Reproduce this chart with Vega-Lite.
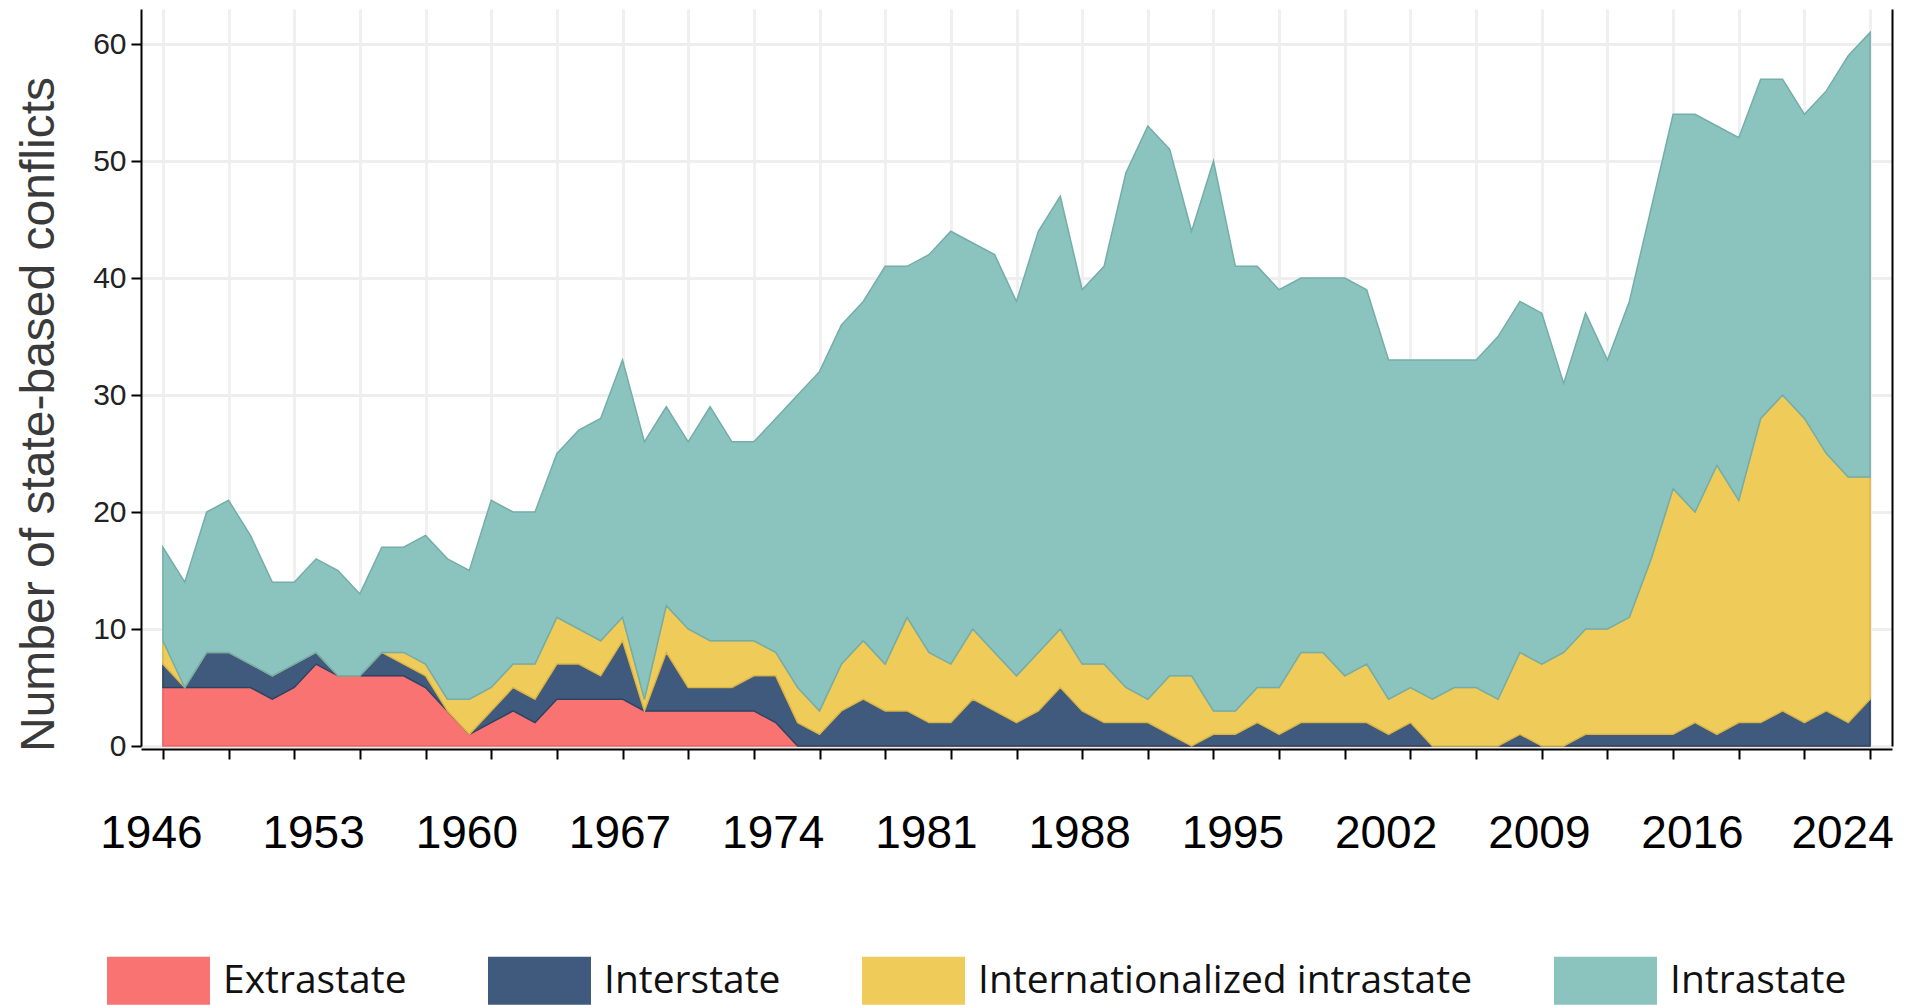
{
"$schema": "https://vega.github.io/schema/vega-lite/v6.json",
"width": 1751, "height": 737,
"autosize": {"type": "none"},
"padding": {"left": 141, "top": 9, "right": 19, "bottom": 259},
"background": "white",
"config": {"view": {"stroke": null}},
"datasets": {
"typeRank": [
{"type":"Extrastate","rank":1},{"type":"Interstate","rank":2},{"type":"Internationalized intrastate","rank":3},{"type":"Intrastate","rank":4}
]},
"data": {"values": [
{"year":1946,"type":"Extrastate","count":5},{"year":1946,"type":"Interstate","count":2},{"year":1946,"type":"Internationalized intrastate","count":2},{"year":1946,"type":"Intrastate","count":8},
{"year":1947,"type":"Extrastate","count":5},{"year":1947,"type":"Interstate","count":0},{"year":1947,"type":"Internationalized intrastate","count":0},{"year":1947,"type":"Intrastate","count":9},
{"year":1948,"type":"Extrastate","count":5},{"year":1948,"type":"Interstate","count":3},{"year":1948,"type":"Internationalized intrastate","count":0},{"year":1948,"type":"Intrastate","count":12},
{"year":1949,"type":"Extrastate","count":5},{"year":1949,"type":"Interstate","count":3},{"year":1949,"type":"Internationalized intrastate","count":0},{"year":1949,"type":"Intrastate","count":13},
{"year":1950,"type":"Extrastate","count":5},{"year":1950,"type":"Interstate","count":2},{"year":1950,"type":"Internationalized intrastate","count":0},{"year":1950,"type":"Intrastate","count":11},
{"year":1951,"type":"Extrastate","count":4},{"year":1951,"type":"Interstate","count":2},{"year":1951,"type":"Internationalized intrastate","count":0},{"year":1951,"type":"Intrastate","count":8},
{"year":1952,"type":"Extrastate","count":5},{"year":1952,"type":"Interstate","count":2},{"year":1952,"type":"Internationalized intrastate","count":0},{"year":1952,"type":"Intrastate","count":7},
{"year":1953,"type":"Extrastate","count":7},{"year":1953,"type":"Interstate","count":1},{"year":1953,"type":"Internationalized intrastate","count":0},{"year":1953,"type":"Intrastate","count":8},
{"year":1954,"type":"Extrastate","count":6},{"year":1954,"type":"Interstate","count":0},{"year":1954,"type":"Internationalized intrastate","count":0},{"year":1954,"type":"Intrastate","count":9},
{"year":1955,"type":"Extrastate","count":6},{"year":1955,"type":"Interstate","count":0},{"year":1955,"type":"Internationalized intrastate","count":0},{"year":1955,"type":"Intrastate","count":7},
{"year":1956,"type":"Extrastate","count":6},{"year":1956,"type":"Interstate","count":2},{"year":1956,"type":"Internationalized intrastate","count":0},{"year":1956,"type":"Intrastate","count":9},
{"year":1957,"type":"Extrastate","count":6},{"year":1957,"type":"Interstate","count":1},{"year":1957,"type":"Internationalized intrastate","count":1},{"year":1957,"type":"Intrastate","count":9},
{"year":1958,"type":"Extrastate","count":5},{"year":1958,"type":"Interstate","count":1},{"year":1958,"type":"Internationalized intrastate","count":1},{"year":1958,"type":"Intrastate","count":11},
{"year":1959,"type":"Extrastate","count":3},{"year":1959,"type":"Interstate","count":0},{"year":1959,"type":"Internationalized intrastate","count":1},{"year":1959,"type":"Intrastate","count":12},
{"year":1960,"type":"Extrastate","count":1},{"year":1960,"type":"Interstate","count":0},{"year":1960,"type":"Internationalized intrastate","count":3},{"year":1960,"type":"Intrastate","count":11},
{"year":1961,"type":"Extrastate","count":2},{"year":1961,"type":"Interstate","count":1},{"year":1961,"type":"Internationalized intrastate","count":2},{"year":1961,"type":"Intrastate","count":16},
{"year":1962,"type":"Extrastate","count":3},{"year":1962,"type":"Interstate","count":2},{"year":1962,"type":"Internationalized intrastate","count":2},{"year":1962,"type":"Intrastate","count":13},
{"year":1963,"type":"Extrastate","count":2},{"year":1963,"type":"Interstate","count":2},{"year":1963,"type":"Internationalized intrastate","count":3},{"year":1963,"type":"Intrastate","count":13},
{"year":1964,"type":"Extrastate","count":4},{"year":1964,"type":"Interstate","count":3},{"year":1964,"type":"Internationalized intrastate","count":4},{"year":1964,"type":"Intrastate","count":14},
{"year":1965,"type":"Extrastate","count":4},{"year":1965,"type":"Interstate","count":3},{"year":1965,"type":"Internationalized intrastate","count":3},{"year":1965,"type":"Intrastate","count":17},
{"year":1966,"type":"Extrastate","count":4},{"year":1966,"type":"Interstate","count":2},{"year":1966,"type":"Internationalized intrastate","count":3},{"year":1966,"type":"Intrastate","count":19},
{"year":1967,"type":"Extrastate","count":4},{"year":1967,"type":"Interstate","count":5},{"year":1967,"type":"Internationalized intrastate","count":2},{"year":1967,"type":"Intrastate","count":22},
{"year":1968,"type":"Extrastate","count":3},{"year":1968,"type":"Interstate","count":0},{"year":1968,"type":"Internationalized intrastate","count":1},{"year":1968,"type":"Intrastate","count":22},
{"year":1969,"type":"Extrastate","count":3},{"year":1969,"type":"Interstate","count":5},{"year":1969,"type":"Internationalized intrastate","count":4},{"year":1969,"type":"Intrastate","count":17},
{"year":1970,"type":"Extrastate","count":3},{"year":1970,"type":"Interstate","count":2},{"year":1970,"type":"Internationalized intrastate","count":5},{"year":1970,"type":"Intrastate","count":16},
{"year":1971,"type":"Extrastate","count":3},{"year":1971,"type":"Interstate","count":2},{"year":1971,"type":"Internationalized intrastate","count":4},{"year":1971,"type":"Intrastate","count":20},
{"year":1972,"type":"Extrastate","count":3},{"year":1972,"type":"Interstate","count":2},{"year":1972,"type":"Internationalized intrastate","count":4},{"year":1972,"type":"Intrastate","count":17},
{"year":1973,"type":"Extrastate","count":3},{"year":1973,"type":"Interstate","count":3},{"year":1973,"type":"Internationalized intrastate","count":3},{"year":1973,"type":"Intrastate","count":17},
{"year":1974,"type":"Extrastate","count":2},{"year":1974,"type":"Interstate","count":4},{"year":1974,"type":"Internationalized intrastate","count":2},{"year":1974,"type":"Intrastate","count":20},
{"year":1975,"type":"Extrastate","count":0},{"year":1975,"type":"Interstate","count":2},{"year":1975,"type":"Internationalized intrastate","count":3},{"year":1975,"type":"Intrastate","count":25},
{"year":1976,"type":"Extrastate","count":0},{"year":1976,"type":"Interstate","count":1},{"year":1976,"type":"Internationalized intrastate","count":2},{"year":1976,"type":"Intrastate","count":29},
{"year":1977,"type":"Extrastate","count":0},{"year":1977,"type":"Interstate","count":3},{"year":1977,"type":"Internationalized intrastate","count":4},{"year":1977,"type":"Intrastate","count":29},
{"year":1978,"type":"Extrastate","count":0},{"year":1978,"type":"Interstate","count":4},{"year":1978,"type":"Internationalized intrastate","count":5},{"year":1978,"type":"Intrastate","count":29},
{"year":1979,"type":"Extrastate","count":0},{"year":1979,"type":"Interstate","count":3},{"year":1979,"type":"Internationalized intrastate","count":4},{"year":1979,"type":"Intrastate","count":34},
{"year":1980,"type":"Extrastate","count":0},{"year":1980,"type":"Interstate","count":3},{"year":1980,"type":"Internationalized intrastate","count":8},{"year":1980,"type":"Intrastate","count":30},
{"year":1981,"type":"Extrastate","count":0},{"year":1981,"type":"Interstate","count":2},{"year":1981,"type":"Internationalized intrastate","count":6},{"year":1981,"type":"Intrastate","count":34},
{"year":1982,"type":"Extrastate","count":0},{"year":1982,"type":"Interstate","count":2},{"year":1982,"type":"Internationalized intrastate","count":5},{"year":1982,"type":"Intrastate","count":37},
{"year":1983,"type":"Extrastate","count":0},{"year":1983,"type":"Interstate","count":4},{"year":1983,"type":"Internationalized intrastate","count":6},{"year":1983,"type":"Intrastate","count":33},
{"year":1984,"type":"Extrastate","count":0},{"year":1984,"type":"Interstate","count":3},{"year":1984,"type":"Internationalized intrastate","count":5},{"year":1984,"type":"Intrastate","count":34},
{"year":1985,"type":"Extrastate","count":0},{"year":1985,"type":"Interstate","count":2},{"year":1985,"type":"Internationalized intrastate","count":4},{"year":1985,"type":"Intrastate","count":32},
{"year":1986,"type":"Extrastate","count":0},{"year":1986,"type":"Interstate","count":3},{"year":1986,"type":"Internationalized intrastate","count":5},{"year":1986,"type":"Intrastate","count":36},
{"year":1987,"type":"Extrastate","count":0},{"year":1987,"type":"Interstate","count":5},{"year":1987,"type":"Internationalized intrastate","count":5},{"year":1987,"type":"Intrastate","count":37},
{"year":1988,"type":"Extrastate","count":0},{"year":1988,"type":"Interstate","count":3},{"year":1988,"type":"Internationalized intrastate","count":4},{"year":1988,"type":"Intrastate","count":32},
{"year":1989,"type":"Extrastate","count":0},{"year":1989,"type":"Interstate","count":2},{"year":1989,"type":"Internationalized intrastate","count":5},{"year":1989,"type":"Intrastate","count":34},
{"year":1990,"type":"Extrastate","count":0},{"year":1990,"type":"Interstate","count":2},{"year":1990,"type":"Internationalized intrastate","count":3},{"year":1990,"type":"Intrastate","count":44},
{"year":1991,"type":"Extrastate","count":0},{"year":1991,"type":"Interstate","count":2},{"year":1991,"type":"Internationalized intrastate","count":2},{"year":1991,"type":"Intrastate","count":49},
{"year":1992,"type":"Extrastate","count":0},{"year":1992,"type":"Interstate","count":1},{"year":1992,"type":"Internationalized intrastate","count":5},{"year":1992,"type":"Intrastate","count":45},
{"year":1993,"type":"Extrastate","count":0},{"year":1993,"type":"Interstate","count":0},{"year":1993,"type":"Internationalized intrastate","count":6},{"year":1993,"type":"Intrastate","count":38},
{"year":1994,"type":"Extrastate","count":0},{"year":1994,"type":"Interstate","count":1},{"year":1994,"type":"Internationalized intrastate","count":2},{"year":1994,"type":"Intrastate","count":47},
{"year":1995,"type":"Extrastate","count":0},{"year":1995,"type":"Interstate","count":1},{"year":1995,"type":"Internationalized intrastate","count":2},{"year":1995,"type":"Intrastate","count":38},
{"year":1996,"type":"Extrastate","count":0},{"year":1996,"type":"Interstate","count":2},{"year":1996,"type":"Internationalized intrastate","count":3},{"year":1996,"type":"Intrastate","count":36},
{"year":1997,"type":"Extrastate","count":0},{"year":1997,"type":"Interstate","count":1},{"year":1997,"type":"Internationalized intrastate","count":4},{"year":1997,"type":"Intrastate","count":34},
{"year":1998,"type":"Extrastate","count":0},{"year":1998,"type":"Interstate","count":2},{"year":1998,"type":"Internationalized intrastate","count":6},{"year":1998,"type":"Intrastate","count":32},
{"year":1999,"type":"Extrastate","count":0},{"year":1999,"type":"Interstate","count":2},{"year":1999,"type":"Internationalized intrastate","count":6},{"year":1999,"type":"Intrastate","count":32},
{"year":2000,"type":"Extrastate","count":0},{"year":2000,"type":"Interstate","count":2},{"year":2000,"type":"Internationalized intrastate","count":4},{"year":2000,"type":"Intrastate","count":34},
{"year":2001,"type":"Extrastate","count":0},{"year":2001,"type":"Interstate","count":2},{"year":2001,"type":"Internationalized intrastate","count":5},{"year":2001,"type":"Intrastate","count":32},
{"year":2002,"type":"Extrastate","count":0},{"year":2002,"type":"Interstate","count":1},{"year":2002,"type":"Internationalized intrastate","count":3},{"year":2002,"type":"Intrastate","count":29},
{"year":2003,"type":"Extrastate","count":0},{"year":2003,"type":"Interstate","count":2},{"year":2003,"type":"Internationalized intrastate","count":3},{"year":2003,"type":"Intrastate","count":28},
{"year":2004,"type":"Extrastate","count":0},{"year":2004,"type":"Interstate","count":0},{"year":2004,"type":"Internationalized intrastate","count":4},{"year":2004,"type":"Intrastate","count":29},
{"year":2005,"type":"Extrastate","count":0},{"year":2005,"type":"Interstate","count":0},{"year":2005,"type":"Internationalized intrastate","count":5},{"year":2005,"type":"Intrastate","count":28},
{"year":2006,"type":"Extrastate","count":0},{"year":2006,"type":"Interstate","count":0},{"year":2006,"type":"Internationalized intrastate","count":5},{"year":2006,"type":"Intrastate","count":28},
{"year":2007,"type":"Extrastate","count":0},{"year":2007,"type":"Interstate","count":0},{"year":2007,"type":"Internationalized intrastate","count":4},{"year":2007,"type":"Intrastate","count":31},
{"year":2008,"type":"Extrastate","count":0},{"year":2008,"type":"Interstate","count":1},{"year":2008,"type":"Internationalized intrastate","count":7},{"year":2008,"type":"Intrastate","count":30},
{"year":2009,"type":"Extrastate","count":0},{"year":2009,"type":"Interstate","count":0},{"year":2009,"type":"Internationalized intrastate","count":7},{"year":2009,"type":"Intrastate","count":30},
{"year":2010,"type":"Extrastate","count":0},{"year":2010,"type":"Interstate","count":0},{"year":2010,"type":"Internationalized intrastate","count":8},{"year":2010,"type":"Intrastate","count":23},
{"year":2011,"type":"Extrastate","count":0},{"year":2011,"type":"Interstate","count":1},{"year":2011,"type":"Internationalized intrastate","count":9},{"year":2011,"type":"Intrastate","count":27},
{"year":2012,"type":"Extrastate","count":0},{"year":2012,"type":"Interstate","count":1},{"year":2012,"type":"Internationalized intrastate","count":9},{"year":2012,"type":"Intrastate","count":23},
{"year":2013,"type":"Extrastate","count":0},{"year":2013,"type":"Interstate","count":1},{"year":2013,"type":"Internationalized intrastate","count":10},{"year":2013,"type":"Intrastate","count":27},
{"year":2014,"type":"Extrastate","count":0},{"year":2014,"type":"Interstate","count":1},{"year":2014,"type":"Internationalized intrastate","count":15},{"year":2014,"type":"Intrastate","count":30},
{"year":2015,"type":"Extrastate","count":0},{"year":2015,"type":"Interstate","count":1},{"year":2015,"type":"Internationalized intrastate","count":21},{"year":2015,"type":"Intrastate","count":32},
{"year":2016,"type":"Extrastate","count":0},{"year":2016,"type":"Interstate","count":2},{"year":2016,"type":"Internationalized intrastate","count":18},{"year":2016,"type":"Intrastate","count":34},
{"year":2017,"type":"Extrastate","count":0},{"year":2017,"type":"Interstate","count":1},{"year":2017,"type":"Internationalized intrastate","count":23},{"year":2017,"type":"Intrastate","count":29},
{"year":2018,"type":"Extrastate","count":0},{"year":2018,"type":"Interstate","count":2},{"year":2018,"type":"Internationalized intrastate","count":19},{"year":2018,"type":"Intrastate","count":31},
{"year":2019,"type":"Extrastate","count":0},{"year":2019,"type":"Interstate","count":2},{"year":2019,"type":"Internationalized intrastate","count":26},{"year":2019,"type":"Intrastate","count":29},
{"year":2020,"type":"Extrastate","count":0},{"year":2020,"type":"Interstate","count":3},{"year":2020,"type":"Internationalized intrastate","count":27},{"year":2020,"type":"Intrastate","count":27},
{"year":2021,"type":"Extrastate","count":0},{"year":2021,"type":"Interstate","count":2},{"year":2021,"type":"Internationalized intrastate","count":26},{"year":2021,"type":"Intrastate","count":26},
{"year":2022,"type":"Extrastate","count":0},{"year":2022,"type":"Interstate","count":3},{"year":2022,"type":"Internationalized intrastate","count":22},{"year":2022,"type":"Intrastate","count":31},
{"year":2023,"type":"Extrastate","count":0},{"year":2023,"type":"Interstate","count":2},{"year":2023,"type":"Internationalized intrastate","count":21},{"year":2023,"type":"Intrastate","count":36},
{"year":2024,"type":"Extrastate","count":0},{"year":2024,"type":"Interstate","count":4},{"year":2024,"type":"Internationalized intrastate","count":19},{"year":2024,"type":"Intrastate","count":38}
]},
"transform": [
{"lookup": "type", "from": {"data": {"name": "typeRank"}, "key": "type", "fields": ["rank"]}}
],
"layer": [
{
"mark": {"type": "area", "interpolate": "linear", "strokeWidth": 1.5},
"encoding": {
"x": {"field": "year", "type": "quantitative",
  "scale": {"domain": [1945, 2025], "nice": false, "zero": false},
  "axis": {"title": null, "format": "d", "offset": 3,
    "values": [1946,1949,1952,1953,1955,1958,1960,1961,1964,1967,1970,1973,1974,1976,1979,1981,1982,1985,1988,1991,1994,1995,1997,2000,2002,2003,2006,2009,2012,2015,2016,2018,2021,2024],
    "labelExpr": "indexof([1946,1953,1960,1967,1974,1981,1988,1995,2002,2009,2016,2024], datum.value) >= 0 ? datum.label : ''",
    "labelOverlap": false, "labelFlush": false, "labelBound": false,
    "labelFont": "Liberation Sans", "labelFontSize": 46, "labelColor": "#000", "labelPadding": 52,
    "labelOffset": {"condition": [{"test": "datum.value == 2024", "value": -28}, {"test": "datum.value == 1946", "value": -12}], "value": -3},
    "grid": true, "gridColor": "#F0F0F0", "gridWidth": 3,
    "gridOpacity": {"condition": {"test": "(datum.value - 1946) % 3 == 0", "value": 1}, "value": 0},
    "ticks": true, "tickSize": 10, "tickWidth": 2, "tickColor": "#000",
    "tickOpacity": {"condition": {"test": "(datum.value - 1946) % 3 == 0", "value": 1}, "value": 0},
    "domain": true, "domainColor": "#000", "domainWidth": 2}},
"y": {"field": "count", "type": "quantitative", "stack": "zero",
  "scale": {"domain": [0, 63], "nice": false},
  "axis": {"orient": "left", "values": [0,10,20,30,40,50,60], "format": "d",
    "grid": true, "gridColor": "#EEEEEE", "gridWidth": 3,
    "ticks": true, "tickSize": 10, "tickWidth": 2, "tickColor": "#000",
    "domain": true, "domainColor": "#000", "domainWidth": 2,
    "labelFont": "Liberation Sans", "labelFontSize": 30, "labelColor": "#222", "labelPadding": 5,
    "title": "Number of state-based conflicts", "titleFont": "Liberation Sans", "titleFontSize": 48,
    "titleFontWeight": "normal", "titleColor": "#3a3a3a", "titleAngle": 270,
    "titleX": -102, "titleY": 405, "titleAlign": "center", "titleBaseline": "middle"}},
"order": {"field": "rank", "type": "quantitative", "sort": "ascending"},
"color": {"field": "type", "type": "nominal",
  "sort": ["Extrastate", "Interstate", "Internationalized intrastate", "Intrastate"],
  "scale": {"domain": ["Extrastate", "Interstate", "Internationalized intrastate", "Intrastate"],
            "range": ["#F97373", "#3F5A7C", "#EFCB59", "#8BC3BF"]},
  "legend": {"title": null, "orient": "none", "direction": "horizontal", "legendX": -34, "legendY": 920,
    "values": ["Extrastate", "Interstate", "Internationalized intrastate", "Intrastate"],
    "symbolType": "M-1,-0.466H1V0.466H-1Z", "symbolSize": 10609, "symbolStrokeWidth": 0, "symbolOpacity": 1,
    "labelFont": "Open Sans", "labelFontSize": 39, "labelColor": "#111",
    "labelOffset": 13, "columnPadding": 81, "labelLimit": 1000, "padding": 0}},
"stroke": {"field": "type", "type": "nominal", "legend": null,
  "scale": {"domain": ["Extrastate", "Interstate", "Internationalized intrastate", "Intrastate"],
            "range": ["#E96262", "#2E4462", "#D9B64A", "#74ADA9"]}}
}
},
{
"mark": {"type": "point", "opacity": 0},
"encoding": {
"x": {"field": "year", "type": "quantitative", "scale": {"domain": [1945, 2025], "nice": false, "zero": false}},
"y": {"field": "count", "type": "quantitative", "scale": {"domain": [0, 63], "nice": false},
  "axis": {"orient": "right", "labels": false, "ticks": false, "grid": false, "domain": true,
    "domainColor": "#000", "domainWidth": 2, "title": null}}
}
}
],
"resolve": {"axis": {"y": "independent"}}
}
